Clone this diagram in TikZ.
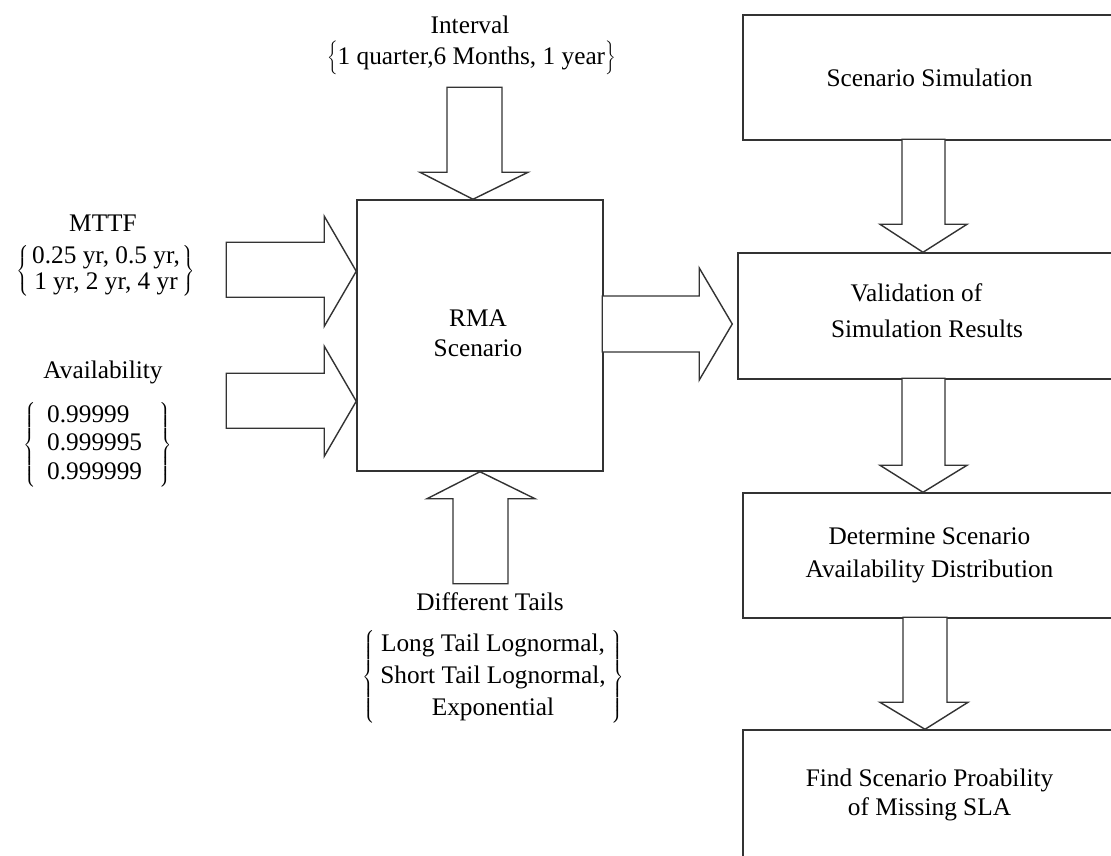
\documentclass[tikz,border=0pt]{standalone}
\usepackage{fontspec}
\setmainfont{Liberation Serif}
\usetikzlibrary{calc}
\tikzset{
  box/.style={draw=black!80, line width=1pt},
  fat/.style={draw=black!80, line width=1pt, fill=white},
}
\begin{document}
\begin{tikzpicture}[x=0.025cm, y=-0.025cm, font=\fontsize{18}{21}\selectfont]
\clip (0,0) rectangle (1111,855);
\node[box, minimum width=6.15cm, minimum height=6.775cm] (rma) at (480,335.5) {};
\node[align=center] (rmatxt) at (478,333) {RMA\\Scenario};
% inputs
\node (ivl) at (470,25) {Interval};
\node[anchor=east, inner sep=0pt] (ivlset) at (616,58) {$\biggl\{$1 quarter,6 Months, 1 year$\biggr\}$};
\node (mttf) at (103,223) {MTTF};
\node (mttfset) at (106,271) {\def\arraystretch{0.88}$\left\{\begin{tabular}{@{\hspace{2pt}}c@{\hspace{2pt}}}0.25 yr, 0.5 yr,\\ 1 yr, 2 yr, 4 yr\end{tabular}\right\}$};
\node (avail) at (103,372) {Availability};
\node (availset) at (97.5,445) {\def\arraystretch{0.97}$\left\{\begin{tabular}{@{\hspace{8pt}}l@{\hspace{12pt}}}0.99999\\ 0.999995\\ 0.999999\end{tabular}\right\}$};
\node (tails) at (490,602) {Different Tails};
\node (tailset) at (493,677) {\def\arraystretch{1.08}$\left\{\begin{tabular}{@{\hspace{4pt}}c@{\hspace{4pt}}}Long Tail Lognormal,\\ Short Tail Lognormal,\\ Exponential\end{tabular}\right\}$};
\draw[fat] ($(rma.north)+(-7,0)$) -- ++(-53,-27) -- ++(27,0) -- ++(0,-85) -- ++(55,0) -- ++(0,85) -- ++(26,0) -- cycle;
\draw[fat] (rma.south) -- ++(-53,27) -- ++(26,0) -- ++(0,85) -- ++(55,0) -- ++(0,-85) -- ++(27,0) -- cycle;
\draw[fat] ($(rma.north west)+(0,72)$) -- ++(-32,-55) -- ++(0,26) -- ++(-98,0) -- ++(0,55) -- ++(98,0) -- ++(0,29) -- cycle;
\draw[fat] ($(rma.north west)+(0,202)$) -- ++(-32,-55) -- ++(0,27) -- ++(-98,0) -- ++(0,55) -- ++(98,0) -- ++(0,28) -- cycle;
% right column
\node[box, minimum width=9.325cm, minimum height=3.125cm] (sim) at (929.5,77.5) {Scenario Simulation};
\node[box, minimum width=9.45cm, minimum height=3.15cm, align=left, text depth=8pt] (val) at (927,316) {\hspace*{14pt}Validation of\\[5pt]Simulation Results};
\node[box, minimum width=9.325cm, minimum height=3.125cm, align=center] (det) at (929.5,555.5) {Determine Scenario\\[2pt]Availability Distribution};
\node[box, minimum width=9.325cm, minimum height=3.25cm, align=center] (miss) at (929.5,795) {Find Scenario Proability\\of Missing SLA};
\draw[fat] ($(val.west)+(-5,8)$) -- ++(-33,-56) -- ++(0,28) -- ++(-97,0) -- ++(0,56) -- ++(97,0) -- ++(0,28) -- cycle;
\draw[fat] ($(val.north)+(-4,0)$) -- ++(-43,-28) -- ++(22,0) -- ++(0,-85) -- ++(43,0) -- ++(0,85) -- ++(22,0) -- cycle;
\draw[fat] ($(det.north)+(-6.5,0)$) -- ++(-43,-27) -- ++(22,0) -- ++(0,-87) -- ++(43,0) -- ++(0,87) -- ++(22,0) -- cycle;
\draw[fat] ($(miss.north)+(-4.5,0)$) -- ++(-45,-27) -- ++(23,0) -- ++(0,-85) -- ++(44,0) -- ++(0,85) -- ++(21,0) -- cycle;
\end{tikzpicture}
\end{document}
